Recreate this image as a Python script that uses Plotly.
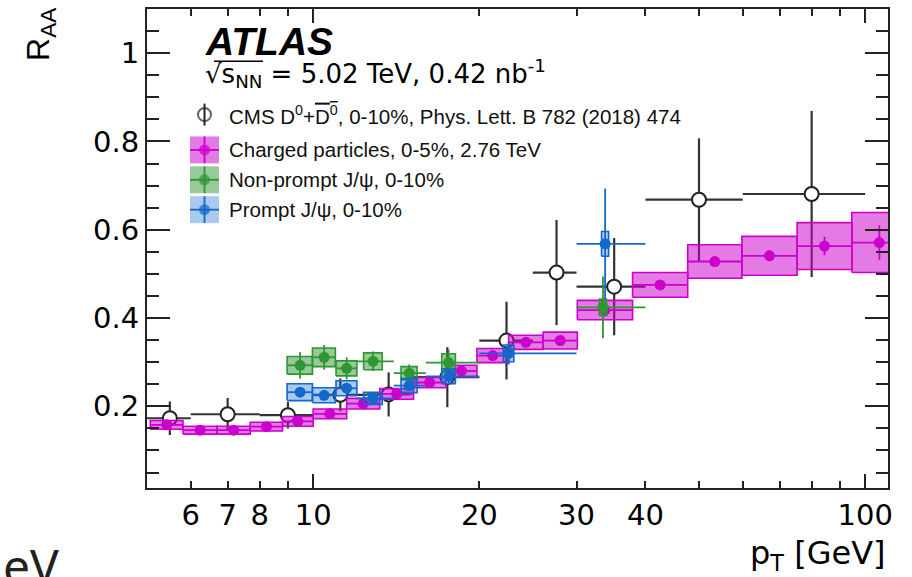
import math
import plotly.graph_objects as go

# ---------------- data ----------------
# CMS D0 + anti-D0, 0-10%
cms_pt = [5.5, 7.0, 9.0, 11.2, 13.7, 17.5, 22.4, 27.6, 35.1, 50.0, 80.0]
cms_lo = [5, 6, 8, 10, 12.5, 15, 20, 25, 30, 40, 60]
cms_hi = [6, 8, 10, 12.5, 15, 20, 25, 30, 40, 60, 100]
cms_raa = [0.173, 0.182, 0.180, 0.226, 0.227, 0.266, 0.349, 0.503, 0.471, 0.668, 0.681]
cms_err = [0.038, 0.037, 0.030, 0.037, 0.050, 0.068, 0.088, 0.119, 0.110, 0.139, 0.188]

# Charged particles, 0-5%, 2.76 TeV
ch_lo = [5.07, 5.81, 6.70, 7.69, 8.80, 10.0, 11.5, 13.2, 15.2, 17.4, 19.8, 22.6, 26.1,
         30.1, 37.9, 47.7, 59.8, 75.3, 94.6]
ch_hi = [5.81, 6.70, 7.69, 8.80, 10.0, 11.5, 13.2, 15.2, 17.4, 19.8, 22.6, 26.1, 30.1,
         37.9, 47.7, 59.8, 75.3, 94.6, 119.0]
ch_pt = [5.43, 6.24, 7.18, 8.23, 9.38, 10.72, 12.32, 14.17, 16.26, 18.56, 21.15, 24.29,
         28.03, 33.78, 42.52, 53.41, 67.10, 84.40, 106.1]
ch_raa = [0.158, 0.146, 0.146, 0.154, 0.166, 0.183, 0.206, 0.228, 0.254, 0.280, 0.315,
          0.345, 0.349, 0.418, 0.475, 0.528, 0.541, 0.563, 0.571]
ch_stat = [0.002, 0.002, 0.002, 0.002, 0.002, 0.002, 0.003, 0.003, 0.003, 0.004, 0.005,
           0.006, 0.007, 0.006, 0.007, 0.010, 0.012, 0.021, 0.039]
ch_sys = [0.010, 0.009, 0.009, 0.010, 0.011, 0.011, 0.012, 0.012, 0.012, 0.013, 0.016,
          0.016, 0.019, 0.022, 0.028, 0.038, 0.044, 0.053, 0.068]

# Non-prompt J/psi, 0-10%
np_pt = [9.47, 10.47, 11.5, 12.84, 14.93, 17.6, 33.5]
np_lo = [9, 10, 11, 12, 14, 16, 30]
np_hi = [10, 11, 12, 14, 16, 20, 40]
np_raa = [0.293, 0.311, 0.286, 0.302, 0.275, 0.299, 0.424]
np_stat = [0.030, 0.028, 0.025, 0.022, 0.020, 0.030, 0.070]
np_sys = [0.020, 0.021, 0.017, 0.019, 0.015, 0.020, 0.019]

# Prompt J/psi, 0-10%
pr_pt = [9.47, 10.47, 11.5, 12.84, 14.93, 17.6, 22.6, 33.8]
pr_lo = [9, 10, 11, 12, 14, 16, 20, 30]
pr_hi = [10, 11, 12, 14, 16, 20, 30, 40]
pr_raa = [0.232, 0.225, 0.241, 0.218, 0.247, 0.268, 0.320, 0.568]
pr_stat = [0.008, 0.008, 0.012, 0.008, 0.010, 0.015, 0.025, 0.125]
pr_sys = [0.019, 0.017, 0.017, 0.014, 0.016, 0.017, 0.019, 0.028]

x_ticks = [6, 7, 8, 10, 20, 30, 40, 100]
x_ticktext = ["6", "7", "8", "10", "20", "30", "40", "100"]
x_minor = [9, 50, 60, 70, 80, 90]
y_ticks = [0.2, 0.4, 0.6, 0.8, 1.0]
y_ticktext = ["0.2", "0.4", "0.6", "0.8", "1"]

# ---------------- style ----------------
MAG, MAG_FILL = "#CC00CC", "rgba(204,0,204,0.52)"
GRN, GRN_FILL = "#2E9632", "rgba(46,150,50,0.5)"
BLU, BLU_FILL = "#1268CC", "rgba(18,104,204,0.36)"
FONT = "Liberation Sans, Arial, sans-serif"
WIDE = "DejaVu Sans, Verdana, sans-serif"
JPSI_HALF_WIDTH = 0.5  # GeV, half width of J/psi systematic boxes

W, H = 912, 577
L, R, T, B = 147, 888, 7, 488


def px(x):
    return (x - L) / (R - L)


def py(y):
    return (B - y) / (B - T)


def box_path(lo, hi, yc, dy):
    xs, ys = [], []
    for a, b, c, d in zip(lo, hi, yc, dy):
        xs += [a, b, b, a, a, None]
        ys += [c - d, c - d, c + d, c + d, c - d, None]
    return xs, ys


def bin_err(pt, lo, hi):
    return ([h - p for p, h in zip(pt, hi)], [p - l for p, l in zip(pt, lo)])


fig = go.Figure()

# CMS D0 points (open circles, drawn beneath the ATLAS results)
ep, em = bin_err(cms_pt, cms_lo, cms_hi)
fig.add_trace(go.Scatter(
    x=cms_pt, y=cms_raa, mode="markers",
    marker=dict(symbol="circle", size=14, color="white", line=dict(color="#222", width=2)),
    error_x=dict(type="data", array=ep, arrayminus=em, color="#333", thickness=2.2, width=0),
    error_y=dict(type="data", array=cms_err, color="#333", thickness=2.2, width=0),
))


def add_series(pt, lo, hi, raa, stat, sys, color, fill, box_lo, box_hi):
    bx, by = box_path(box_lo, box_hi, raa, sys)
    fig.add_trace(go.Scatter(x=bx, y=by, mode="lines", fill="toself", fillcolor=fill,
                             line=dict(color=color, width=1.6), hoverinfo="skip"))
    ep, em = bin_err(pt, lo, hi)
    fig.add_trace(go.Scatter(
        x=pt, y=raa, mode="markers",
        marker=dict(symbol="circle", size=11, color=color),
        error_x=dict(type="data", array=ep, arrayminus=em, color=color, thickness=1.8, width=0),
        error_y=dict(type="data", array=stat, color=color, thickness=1.8, width=0),
    ))


add_series(ch_pt, ch_lo, ch_hi, ch_raa, ch_stat, ch_sys, MAG, MAG_FILL, ch_lo, ch_hi)
add_series(np_pt, np_lo, np_hi, np_raa, np_stat, np_sys, GRN, GRN_FILL,
           [p - JPSI_HALF_WIDTH for p in np_pt], [p + JPSI_HALF_WIDTH for p in np_pt])
add_series(pr_pt, pr_lo, pr_hi, pr_raa, pr_stat, pr_sys, BLU, BLU_FILL,
           [p - JPSI_HALF_WIDTH for p in pr_pt], [p + JPSI_HALF_WIDTH for p in pr_pt])

# ---------------- legend (hand drawn) ----------------
sym_x = 204.5
rows = [113, 148.5, 178.5, 208.5]
shapes = []
for yy, col, fill in zip(rows[1:], [MAG, GRN, BLU], [MAG_FILL, GRN_FILL, BLU_FILL]):
    shapes.append(dict(type="rect", xref="paper", yref="paper",
                       x0=px(190), x1=px(219), y0=py(yy + 13.5), y1=py(yy - 13.5),
                       fillcolor=fill, line=dict(width=0)))
    shapes.append(dict(type="line", xref="paper", yref="paper",
                       x0=px(190), x1=px(219), y0=py(yy), y1=py(yy),
                       line=dict(color=col, width=1.8)))
    shapes.append(dict(type="line", xref="paper", yref="paper",
                       x0=px(sym_x), x1=px(sym_x), y0=py(yy + 13.5), y1=py(yy - 13.5),
                       line=dict(color=col, width=1.8)))
shapes.append(dict(type="line", xref="paper", yref="paper",
                   x0=px(sym_x), x1=px(sym_x), y0=py(rows[0] + 11), y1=py(rows[0] - 11),
                   line=dict(color="#222", width=2)))
# radical bar over s_NN
shapes.append(dict(type="line", xref="paper", yref="paper",
                   x0=px(214), x1=px(263), y0=py(59.5), y1=py(59.5),
                   line=dict(color="black", width=1.6)))
fig.update_layout(shapes=shapes)

fig.add_trace(go.Scatter(
    x=[px(sym_x)] * 4, y=[py(r) for r in rows], xaxis="x3", yaxis="y3", mode="markers",
    marker=dict(size=[13, 11, 11, 11], color=["white", MAG, GRN, BLU],
                line=dict(color=["#222", MAG, GRN, BLU], width=[2, 0, 0, 0])),
    hoverinfo="skip"))

legend_text = [
    "CMS D<sup>0</sup>+<span style='text-decoration:overline'>D<sup>0</sup></span>, 0-10%, Phys. Lett. B 782 (2018) 474",
    "Charged particles, 0-5%, 2.76 TeV",
    "Non-prompt J/\u03c8, 0-10%",
    "Prompt J/\u03c8, 0-10%",
]
ann = []
for r, t in zip(rows, legend_text):
    ann.append(dict(x=px(227), y=py(r), xref="paper", yref="paper", text=t, showarrow=False,
                    xanchor="left", yanchor="middle", font=dict(family=FONT, size=20.5, color="#111")))

ann += [
    dict(x=px(203), y=py(40), xref="paper", yref="paper", text="<b><i>ATLAS</i></b>",
         showarrow=False, xanchor="left", yanchor="middle",
         font=dict(family=FONT, size=39, color="black")),
    dict(x=px(203), y=py(72), xref="paper", yref="paper",
         text="\u221as<sub>NN</sub> = 5.02 TeV, 0.42 nb<sup>-1</sup>",
         showarrow=False, xanchor="left", yanchor="middle",
         font=dict(family=WIDE, size=26, color="black")),
    dict(x=px(41), y=py(33), xref="paper", yref="paper", text="R<sub>AA</sub>",
         showarrow=False, textangle=-90, xanchor="center", yanchor="middle",
         font=dict(family=FONT, size=32, color="black")),
    dict(x=px(888), y=py(555), xref="paper", yref="paper", text="p<sub>T</sub> [GeV]",
         showarrow=False, xanchor="right", yanchor="middle",
         font=dict(family=WIDE, size=32, color="black")),
    dict(x=px(61), y=py(531), xref="paper", yref="paper", text="GeV",
         showarrow=False, xanchor="right", yanchor="top",
         font=dict(family="Noto Sans, sans-serif", size=48, color="#222")),
]

xr = [math.log10(5), math.log10(110)]
fig.update_layout(
    width=W, height=H, autosize=False,
    margin=dict(l=L, r=W - R, t=T, b=H - B, pad=0),
    paper_bgcolor="white", plot_bgcolor="white",
    showlegend=False,
    annotations=ann,
    xaxis=dict(type="log", range=xr, showline=True, linecolor="#222", linewidth=2,
               mirror="ticks", ticks="inside", ticklen=7, tickwidth=1.6, tickcolor="#222",
               tickvals=x_ticks, ticktext=x_ticktext, showgrid=False, zeroline=False,
               tickfont=dict(family=WIDE, size=29, color="black"),
               minor=dict(tickvals=x_minor, ticks="inside", ticklen=7, tickwidth=1.6,
                          tickcolor="#222", showgrid=False)),
    xaxis2=dict(type="log", range=xr, overlaying="x", anchor="y", side="bottom",
                showline=False, mirror="ticks", ticks="inside", ticklen=14, tickwidth=1.6,
                tickcolor="#222", tickvals=[10, 100], showticklabels=False, showgrid=False,
                zeroline=False),
    yaxis=dict(range=[0.015, 1.1], showline=True, linecolor="#222", linewidth=2,
               mirror="ticks", ticks="inside", ticklen=23, tickwidth=1.6, tickcolor="#222",
               tickvals=y_ticks, ticktext=y_ticktext, showgrid=False, zeroline=False,
               tickfont=dict(family=WIDE, size=29, color="black"),
               minor=dict(dtick=0.05, tick0=0, ticks="inside", ticklen=12, tickwidth=1.6,
                          tickcolor="#222", showgrid=False)),
    xaxis3=dict(overlaying="x", anchor="y3", range=[0, 1], visible=False),
    yaxis3=dict(overlaying="y", anchor="x3", range=[0, 1], visible=False),
)
# invisible point so the long-tick axis is rendered
fig.add_trace(go.Scatter(x=[10], y=[0.5], xaxis="x2", mode="markers",
                         marker=dict(opacity=0), hoverinfo="skip"))

fig.write_html("out.html")
